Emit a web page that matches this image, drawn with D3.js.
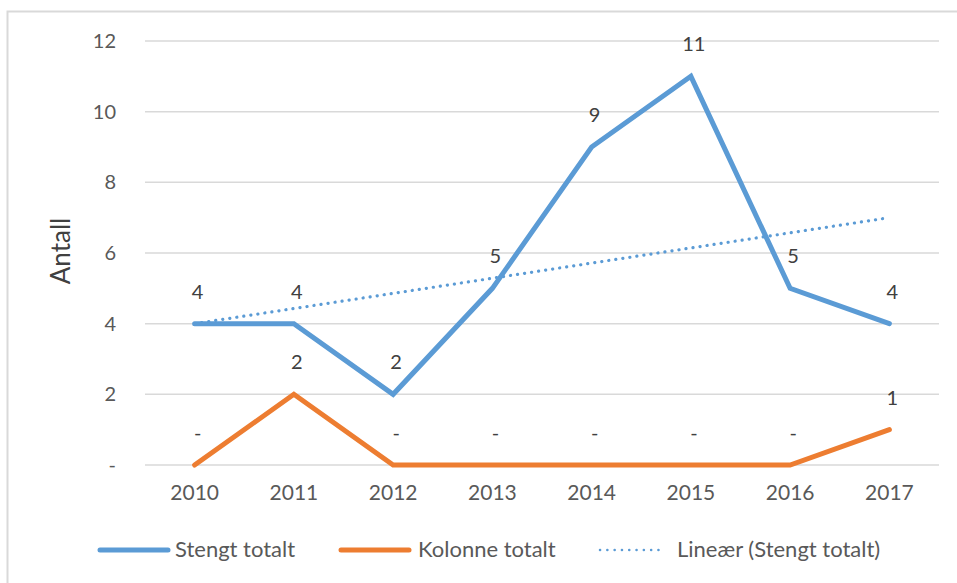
<!DOCTYPE html>
<html>
<head>
<meta charset="utf-8">
<script src="https://cdn.jsdelivr.net/npm/d3@7/dist/d3.min.js"></script>
<style>
  html, body { margin: 0; padding: 0; background: #fff; }
  svg { display: block; font-family: Lato, "Open Sans", sans-serif; }
</style>
</head>
<body>
<svg id="chart" width="957" height="583"></svg>
<script>
// Data
const years = ["2010", "2011", "2012", "2013", "2014", "2015", "2016", "2017"];
const stengtTotalt = [4, 4, 2, 5, 9, 11, 5, 4];
const kolonneTotalt = [0, 2, 0, 0, 0, 0, 0, 1];
const yTicks = [0, 2, 4, 6, 8, 10, 12];
const seriesNames = ["Stengt totalt", "Kolonne totalt", "Lineær (Stengt totalt)"];

const blue = "#5B9BD5", orange = "#ED7D31", grid = "#D9D9D9", text = "#595959";

const svg = d3.select("#chart");

// Frame (top and left edges)
svg.append("path")
  .attr("d", "M7.5,583 V11.5 H957")
  .attr("fill", "none").attr("stroke", "#D9D9D9").attr("stroke-width", 2);

const margin = { left: 145, right: 939, top: 41, bottom: 465 };
const x = d3.scaleBand().domain(years).range([margin.left, margin.right]);
const cx = d => x(d) + x.bandwidth() / 2;
const y = d3.scaleLinear().domain([0, 12]).range([margin.bottom, margin.top]);

// Gridlines
svg.append("g").selectAll("line").data(yTicks).join("line")
  .attr("x1", margin.left).attr("x2", margin.right)
  .attr("y1", d => y(d)).attr("y2", d => y(d))
  .attr("stroke", grid).attr("stroke-width", 1.5);

// Y axis labels (zero shown as a dash)
const yAxis = d3.axisLeft(y).tickValues(yTicks)
  .tickFormat(d => d === 0 ? "-" : d).tickSize(0).tickPadding(0);
const gy = svg.append("g").attr("transform", "translate(116,0)").call(yAxis);
gy.select(".domain").remove();
gy.selectAll("text").attr("fill", text).style("font-size", "20px")
  .style("font-family", "Lato, 'Open Sans', sans-serif");

// X axis labels
const xAxis = d3.axisBottom(x).tickSize(0).tickPadding(0);
const gx = svg.append("g").attr("transform", "translate(0,485)").call(xAxis);
gx.select(".domain").remove();
gx.selectAll("text").attr("fill", text).style("font-size", "21px")
  .style("font-family", "Lato, 'Open Sans', sans-serif");

// Y axis title
svg.append("text")
  .attr("transform", "translate(70,251) rotate(-90)")
  .attr("text-anchor", "middle")
  .attr("fill", "#404040").style("font-size", "26px")
  .text("Antall");

// Linear trend of Stengt totalt (least squares over category index)
const n = stengtTotalt.length;
const mx = d3.mean(d3.range(n)), my = d3.mean(stengtTotalt);
const slope = d3.sum(d3.range(n), i => (i - mx) * (stengtTotalt[i] - my)) /
              d3.sum(d3.range(n), i => (i - mx) * (i - mx));
const intercept = my - slope * mx;
const trend = [0, n - 1].map(i => ({ year: years[i], v: intercept + slope * i }));

const line = d3.line().x(d => cx(d.year)).y(d => y(d.v));

svg.append("path")
  .datum(trend)
  .attr("d", line)
  .attr("fill", "none").attr("stroke", blue).attr("stroke-width", 3.2)
  .attr("stroke-linecap", "round").attr("stroke-dasharray", "0.1 7");

const seriesData = [
  { values: stengtTotalt, color: blue },
  { values: kolonneTotalt, color: orange }
];

seriesData.forEach(s => {
  const pts = years.map((yr, i) => ({ year: yr, v: s.values[i] }));
  svg.append("path")
    .datum(pts)
    .attr("d", line)
    .attr("fill", "none").attr("stroke", s.color).attr("stroke-width", 5)
    .attr("stroke-linejoin", "miter").attr("stroke-linecap", "round");
});

// Data labels above each point
seriesData.forEach(s => {
  svg.append("g").selectAll("text")
    .data(years.map((yr, i) => ({ year: yr, v: s.values[i] })))
    .join("text")
    .attr("x", d => cx(d.year) + 3)
    .attr("y", d => y(d.v) - 25)
    .attr("text-anchor", "middle")
    .attr("fill", "#404040").style("font-size", "20px")
    .text(d => d.v === 0 ? "-" : d.v);
});

// Legend
const legendY = 550;
const legendItems = [
  { name: seriesNames[0], color: blue, x1: 100, x2: 168, tx: 175, dotted: false },
  { name: seriesNames[1], color: orange, x1: 341, x2: 409, tx: 418, dotted: false },
  { name: seriesNames[2], color: blue, x1: 600, x2: 665, tx: 677, dotted: true }
];
const lg = svg.append("g").selectAll("g").data(legendItems).join("g");
lg.append("line")
  .attr("x1", d => d.x1).attr("x2", d => d.x2)
  .attr("y1", legendY).attr("y2", legendY)
  .attr("stroke", d => d.color)
  .attr("stroke-width", d => d.dotted ? 2.5 : 5)
  .attr("stroke-linecap", "round")
  .attr("stroke-dasharray", d => d.dotted ? "0.1 7.2" : null);
lg.append("text")
  .attr("x", d => d.tx).attr("y", legendY + 7)
  .attr("fill", text).style("font-size", "22px")
  .text(d => d.name);
</script>
</body>
</html>
